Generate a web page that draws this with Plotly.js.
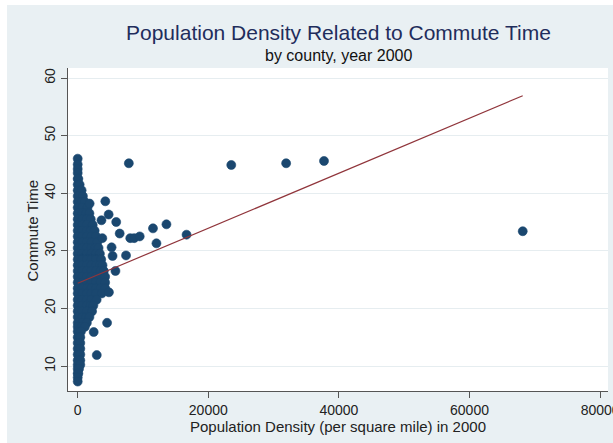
<!DOCTYPE html>
<html>
<head>
<meta charset="utf-8">
<script src="https://cdn.plot.ly/plotly-3.0.1.min.js"></script>
<style>
  html, body { margin: 0; padding: 0; background: #ffffff; width: 613px; height: 443px; overflow: hidden; }
  #chart { position: absolute; left: 7px; top: 5px; width: 606px; height: 438px; }
</style>
</head>
<body>
<div id="chart"></div>
<script>
// Population density (per square mile) by county, 2000
const densityX = [
  0,
  0,
  0,
  0,
  0, 100,
  0, 300,
  0, 600,
  0, 800,
  0, 600, 1100,
  0, 700, 1500,
  0, 700, 1300, 1800,
  0, 700, 1400, 2000,
  0, 700, 1400, 2300,
  0, 700, 1400, 2000, 2600,
  0, 700, 1400, 2100, 2800,
  0, 700, 1400, 2100, 3000,
  0, 700, 1400, 2100, 2700, 3200,
  0, 700, 1400, 2100, 2800, 3400,
  0, 700, 1400, 2100, 2800, 3600,
  0, 700, 1400, 2100, 2800, 3400, 3800,
  0, 700, 1400, 2100, 2800, 3500, 4000,
  0, 700, 1400, 2100, 2800, 3500, 4200,
  0, 700, 1400, 2100, 2800, 3500, 4200,
  0, 700, 1400, 2100, 2800, 3500, 4200,
  0, 700, 1400, 2100, 2800, 3700,
  0, 700, 1400, 2100, 2900,
  0, 700, 1400, 2000, 2400,
  0, 700, 1400, 2200,
  0, 700, 1300, 1800,
  0, 700, 1400,
  0, 600, 1100,
  0, 500,
  0, 400,
  0, 400,
  0, 400,
  0, 400,
  0, 400,
  0, 400,
  0, 200,
  0, 100,
  0,
  0,
  1830, 4230, 3640, 4740, 5900, 6430, 3770, 8050, 8650, 9500,
  11530, 13590, 12060, 16670, 5190, 5340, 7400, 5780, 4780, 2450,
  4500, 2920, 7830, 23520, 31920, 37720, 68150
];
// Mean commute time (minutes)
const commuteY = [
  46.0,
  45.0,
  44.2,
  43.5,
  42.5, 42.5,
  41.5, 41.5,
  40.5, 40.5,
  39.5, 39.5,
  38.5, 38.5, 38.5,
  37.5, 37.5, 37.5,
  36.5, 36.5, 36.5, 36.5,
  35.5, 35.5, 35.5, 35.5,
  34.5, 34.5, 34.5, 34.5,
  33.5, 33.5, 33.5, 33.5, 33.5,
  32.5, 32.5, 32.5, 32.5, 32.5,
  31.5, 31.5, 31.5, 31.5, 31.5,
  30.5, 30.5, 30.5, 30.5, 30.5, 30.5,
  29.5, 29.5, 29.5, 29.5, 29.5, 29.5,
  28.5, 28.5, 28.5, 28.5, 28.5, 28.5,
  27.5, 27.5, 27.5, 27.5, 27.5, 27.5, 27.5,
  26.5, 26.5, 26.5, 26.5, 26.5, 26.5, 26.5,
  25.5, 25.5, 25.5, 25.5, 25.5, 25.5, 25.5,
  24.5, 24.5, 24.5, 24.5, 24.5, 24.5, 24.5,
  23.5, 23.5, 23.5, 23.5, 23.5, 23.5, 23.5,
  22.6, 22.6, 22.6, 22.6, 22.6, 22.6,
  21.5, 21.5, 21.5, 21.5, 21.5,
  20.5, 20.5, 20.5, 20.5, 20.5,
  19.5, 19.5, 19.5, 19.5,
  18.5, 18.5, 18.5, 18.5,
  17.5, 17.5, 17.5,
  16.8, 16.8, 16.8,
  16.0, 16.0,
  15.0, 15.0,
  14.0, 14.0,
  13.0, 13.0,
  12.0, 12.0,
  11.0, 11.0,
  10.2, 10.2,
  9.5, 9.5,
  8.7, 8.7,
  8.0,
  7.3,
  38.2, 38.6, 35.3, 36.3, 35.0, 33.0, 32.2, 32.2, 32.2, 32.5,
  33.9, 34.6, 31.3, 32.8, 30.6, 29.1, 29.2, 26.5, 22.8, 15.9,
  17.5, 11.9, 45.2, 44.9, 45.2, 45.6, 33.4
];
// Linear fit end points
const fitX = [0, 68150];
const fitY = [24.36, 56.93];

const xTickVals = [0, 20000, 40000, 60000, 80000];
const xTickText = ['0', '20000', '40000', '60000', '80000'];
const yTickVals = [10, 20, 30, 40, 50, 60];

const FONT = 'Liberation Sans, Arial, Helvetica, sans-serif';

const traces = [
  {
    x: densityX, y: commuteY, type: 'scatter', mode: 'markers',
    marker: { color: '#1a476f', size: 9, line: { width: 0.6, color: '#1a476f' } },
    hoverinfo: 'skip', showlegend: false
  },
  {
    x: fitX, y: fitY, type: 'scatter', mode: 'lines',
    line: { color: '#90353b', width: 1.2 },
    hoverinfo: 'skip', showlegend: false
  }
];

const layout = {
  width: 606, height: 438,
  margin: { l: 61, r: 5, t: 63, b: 52 },
  paper_bgcolor: '#e9f0f3',
  plot_bgcolor: '#ffffff',
  font: { family: FONT, color: '#222222', size: 14 },
  showlegend: false,
  xaxis: {
    range: [-1485, 81210],
    tickvals: xTickVals, ticktext: xTickText,
    ticks: 'outside', ticklen: 6, tickcolor: '#555555', tickwidth: 1,
    showline: true, linecolor: '#555555', linewidth: 1, mirror: false,
    showgrid: false, zeroline: false,
    ticklabeloverflow: 'allow',
    tickfont: { size: 14, color: '#222222' },
    title: { text: 'Population Density (per square mile) in 2000', font: { size: 15, color: '#222222' }, standoff: 4 }
  },
  yaxis: {
    range: [5.66, 61.74],
    tickvals: yTickVals,
    tickangle: -90,
    ticks: 'outside', ticklen: 6, tickcolor: '#555555', tickwidth: 1,
    showline: true, linecolor: '#555555', linewidth: 1, mirror: false,
    showgrid: true, gridcolor: '#e6edf0', gridwidth: 1, zeroline: false,
    tickfont: { size: 14, color: '#222222' }
  },
  annotations: [
    {
      text: 'Population Density Related to Commute Time',
      xref: 'paper', yref: 'paper', x: 0.5, y: 1, xanchor: 'center', yanchor: 'middle',
      yshift: 36, showarrow: false,
      font: { family: FONT, size: 21, color: '#1f2d5c' }
    },
    {
      text: 'by county, year 2000',
      xref: 'paper', yref: 'paper', x: 0.5, y: 1, xanchor: 'center', yanchor: 'middle',
      yshift: 13, showarrow: false,
      font: { family: FONT, size: 16, color: '#111111' }
    },
    {
      text: 'Commute Time',
      xref: 'paper', yref: 'paper', x: 0, y: 0.5, xanchor: 'center', yanchor: 'middle',
      xshift: -36, yshift: -1, textangle: -90, showarrow: false,
      font: { family: FONT, size: 15, color: '#222222' }
    }
  ]
};

Plotly.newPlot('chart', traces, layout, { displayModeBar: false, staticPlot: true });
</script>
</body>
</html>
